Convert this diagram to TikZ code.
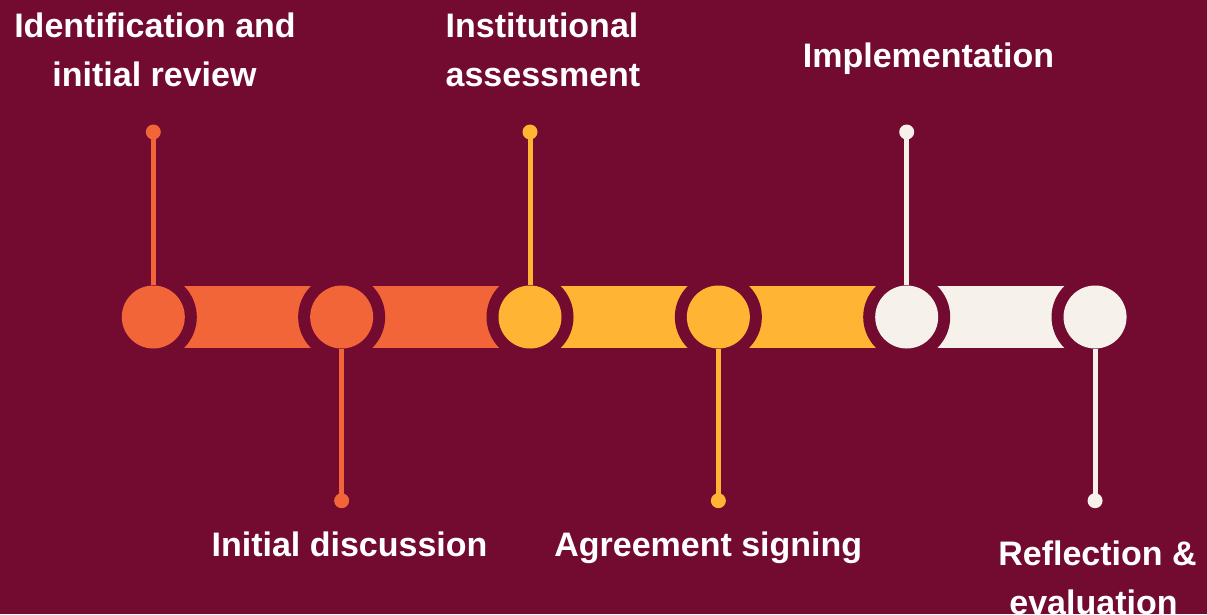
\documentclass[tikz,border=0pt]{standalone}
\usepackage{fontspec}
\setmainfont{Liberation Sans}
\definecolor{bgc}{HTML}{730A2F}
\definecolor{orc}{HTML}{F26539}
\definecolor{yec}{HTML}{FFB533}
\definecolor{crc}{HTML}{F6F1EB}
\tikzset{
  barbox/.style={rectangle, inner sep=0pt, minimum width=188.4pt, minimum height=62pt},
  stepdisc/.style={circle, inner sep=0pt, minimum size=63pt, preaction={draw=bgc, line width=24pt}},
  enddot/.style={circle, inner sep=0pt, minimum size=15pt},
  stemline/.style={line width=5pt},
  lbl/.style={text=white, inner sep=0pt, anchor=base, font=\fontsize{34}{49}\selectfont\bfseries},
}
\begin{document}
\begin{tikzpicture}[x=1pt,y=-1pt]
\fill[bgc] (0,0) rectangle (1207,614);
\useasboundingbox (0,0) rectangle (1207,614);
% bars
\node[barbox, fill=orc] (b1) at (247.5,317) {};
\node[barbox, fill=orc] (b2) at (435.8,317) {};
\node[barbox, fill=yec] (b3) at (624.2,317) {};
\node[barbox, fill=yec] (b4) at (812.5,317) {};
\node[barbox, fill=crc] (b5) at (1000.9,317) {};
% circles
\node[stepdisc, fill=orc] (c1) at (153.3,317) {};
\node[stepdisc, fill=orc] (c2) at (341.65,317) {};
\node[stepdisc, fill=yec] (c3) at (530.0,317) {};
\node[stepdisc, fill=yec] (c4) at (718.35,317) {};
\node[stepdisc, fill=crc] (c5) at (906.7,317) {};
\node[stepdisc, fill=crc] (c6) at (1095.05,317) {};
% dots
\node[enddot, fill=orc] (d1) at (153.3,132) {};
\node[enddot, fill=orc] (d2) at (341.65,500.7) {};
\node[enddot, fill=yec] (d3) at (530.0,132) {};
\node[enddot, fill=yec] (d4) at (718.35,500.7) {};
\node[enddot, fill=crc] (d5) at (906.7,132) {};
\node[enddot, fill=crc] (d6) at (1095.05,500.7) {};
% stems
\draw[stemline, orc] (c1.north) -- (d1.center);
\draw[stemline, orc] (c2.south) -- (d2.center);
\draw[stemline, yec] (c3.north) -- (d3.center);
\draw[stemline, yec] (c4.south) -- (d4.center);
\draw[stemline, crc] (c5.north) -- (d5.center);
\draw[stemline, crc] (c6.south) -- (d6.center);
% labels
\node[lbl] (t1a) at (155,37.3) {Identification and};
\node[lbl] (t1b) at (154.5,86) {initial review};
\node[lbl] (t3a) at (542,37.8) {Institutional};
\node[lbl] (t3b) at (543,86) {assessment};
\node[lbl] (t5) at (928.5,67.3) {Implementation};
\node[lbl] (t2) at (349.5,556) {Initial discussion};
\node[lbl] (t4) at (708.3,556) {Agreement signing};
\node[lbl] (t6a) at (1097.5,565) {Reflection \&};
\node[lbl] (t6b) at (1093.5,614) {evaluation};
\end{tikzpicture}
\end{document}
